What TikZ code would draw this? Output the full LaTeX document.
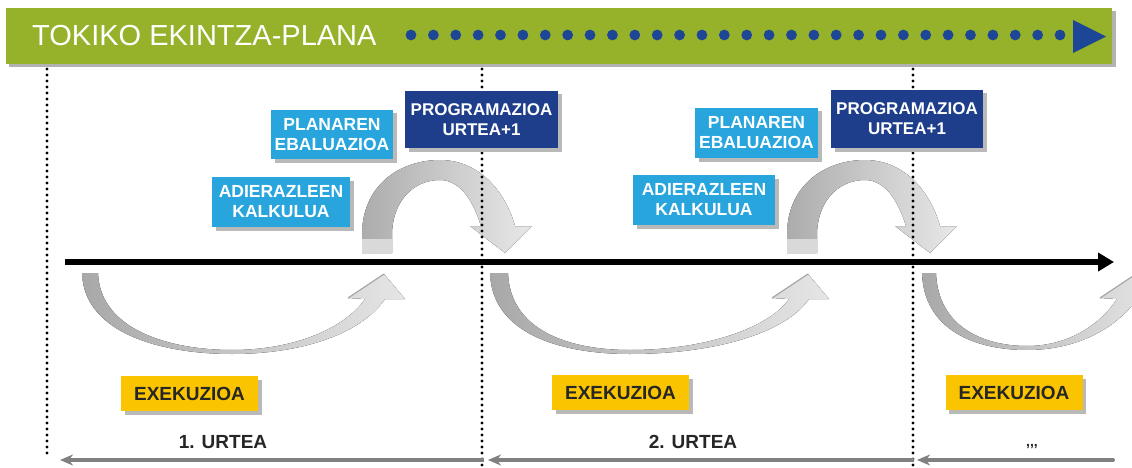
\documentclass[tikz,border=0pt]{standalone}
\usepackage{fontspec}
\setmainfont{Liberation Sans}
\usetikzlibrary{arrows.meta,shadows}
\definecolor{bannergreen}{RGB}{150,178,42}
\definecolor{navybox}{RGB}{30,62,140}
\definecolor{lightbox}{RGB}{41,165,222}
\definecolor{yellowbox}{RGB}{250,196,0}
\definecolor{dotblue}{RGB}{30,70,150}
\tikzset{
  boxbase/.style={inner sep=0pt, align=center, general shadow={fill=gray!55, shadow xshift=3.5pt, shadow yshift=-3.5pt}},
  navystyle/.style={boxbase, fill=navybox, text=white, font=\fontsize{17}{20}\selectfont\bfseries},
  lightstyle/.style={boxbase, fill=lightbox, text=white, font=\fontsize{17.5}{20}\selectfont\bfseries},
  exestyle/.style={boxbase, fill=yellowbox, text=black!85, font=\fontsize{19}{22}\selectfont\bfseries, minimum width=137pt, minimum height=35pt},
  yearlabel/.style={anchor=base, text=black!85, font=\fontsize{19}{22}\selectfont\bfseries},
  timeline/.style={line width=6pt, -{Triangle[length=16pt,width=18pt]}},
  yearline/.style={line width=4pt, draw=black!50, {Stealth[length=13pt,width=11pt,inset=4pt]}-},
  upperarc/.style={left color=gray!65, right color=gray!18},
  lowerarc/.style={left color=gray!68, right color=gray!20},
}
\begin{document}
\begin{tikzpicture}[x=1pt,y=-1pt]
\useasboundingbox (0,0) rectangle (1132,468);
\fill[white] (0,0) rectangle (1132,468);
% banner
\fill[gray!60] (9,11) rectangle (1116,67);
\fill[bannergreen] (6,8) rectangle (1112,64);
\node[anchor=base west, inner sep=0pt, text=white, font=\fontsize{29}{32}\selectfont] (title) at (32,46) {TOKIKO EKINTZA-PLANA};
\foreach \i in {0,...,29} \fill[dotblue] ({411+\i*22.38},35) circle (5.4pt);
\fill[dotblue] (1073,20) -- (1106,36.5) -- (1073,53) -- cycle;
% upper arcs
\foreach \s in {0,425}{
\begin{scope}[xshift=\s pt]
\fill[upperarc] (362,253) -- (362,235) .. controls (362,185) and (400,160) .. (440,160) .. controls (478,160) and (505,190) .. (515,226) -- (532,226) -- (505,253) -- (470,226) -- (481,226) .. controls (472,197) and (458,180) .. (440,180) .. controls (412,180) and (392,203) .. (392,235) -- (392,253) -- cycle;
\fill[gray!30] (362,239) rectangle (392,253);
\draw[gray!45, line width=0.8pt] (470,226) -- (481,226) (515,226) -- (532,226);
\end{scope}}
% lower arcs
\begin{scope}
\clip (0,0) rectangle (1132,468);
\fill[lowerarc] (82,273) .. controls (84,335) and (165,354) .. (232,354) .. controls (300,354) and (360,335) .. (385,299) -- (405,299) -- (384,274) -- (348,298) -- (365,299) .. controls (345,328) and (295,350) .. (232,350) .. controls (170,350) and (100,330) .. (98,273) -- cycle;
\draw[gray!70, line width=1.2pt] (348,298) -- (384,274);
\fill[lowerarc] (490,273) .. controls (492,335) and (563,354) .. (630,354) .. controls (710,354) and (784,335) .. (809,299) -- (829,299) -- (808,274) -- (772,298) -- (789,299) .. controls (769,328) and (705,350) .. (630,350) .. controls (568,350) and (510,330) .. (508,273) -- cycle;
\draw[gray!70, line width=1.2pt] (772,298) -- (808,274);
\fill[lowerarc] (922,273) .. controls (924,330) and (975,350) .. (1027,350) .. controls (1075,350) and (1115,330) .. (1137,299) -- (1157,299) -- (1136,274) -- (1100,298) -- (1117,299) .. controls (1100,325) and (1068,346) .. (1027,346) .. controls (985,346) and (938,328) .. (936,273) -- cycle;
\draw[gray!70, line width=1.2pt] (1100,298) -- (1136,274);
\end{scope}
% dividers (dotted)
\foreach \y in {69,75,...,457} \fill[black] (47,\y) circle (1.6pt);
\foreach \y in {69,75,...,467} \fill[black] (482,\y) circle (1.6pt);
\foreach \y in {69,75,...,467} \fill[black] (913,\y) circle (1.6pt);
% main timeline
\coordinate (tlstart) at (65,262);
\coordinate (tlend) at (1114,262);
\draw[timeline] (tlstart) -- (tlend);
% boxes
\node[navystyle, minimum width=153pt, minimum height=57pt] (prog1) at (481.5,119.5) {PROGRAMAZIOA\\URTEA+1};
\node[navystyle, minimum width=152pt, minimum height=58pt] (prog2) at (907,119) {PROGRAMAZIOA\\URTEA+1};
\node[lightstyle, minimum width=122pt, minimum height=49pt] (plan1) at (332,134.5) {PLANAREN\\EBALUAZIOA};
\node[lightstyle, minimum width=123pt, minimum height=50pt] (plan2) at (756.5,133) {PLANAREN\\EBALUAZIOA};
\node[lightstyle, minimum width=138pt, minimum height=50pt] (adier1) at (281,202) {ADIERAZLEEN\\KALKULUA};
\node[lightstyle, minimum width=142pt, minimum height=50pt] (adier2) at (704,200) {ADIERAZLEEN\\KALKULUA};
\node[exestyle] (exe1) at (189.5,393.5) {EXEKUZIOA};
\node[exestyle] (exe2) at (620.5,392.5) {EXEKUZIOA};
\node[exestyle] (exe3) at (1014,392.5) {EXEKUZIOA};
% year labels
\node[yearlabel] (year1) at (223,448) {1. URTEA};
\node[yearlabel] (year2) at (693,448) {2. URTEA};
\node[yearlabel, font=\fontsize{14}{16}\selectfont\bfseries] (year3) at (1032,446) {{,}{,}{,}};
% year arrows
\coordinate (ya1) at (60,460);
\coordinate (yb1) at (484,460);
\coordinate (ya2) at (488,460);
\coordinate (yb2) at (914,460);
\coordinate (ya3) at (917,460);
\coordinate (yb3) at (1113,460);
\draw[yearline] (ya1) -- (yb1);
\draw[yearline] (ya2) -- (yb2);
\draw[yearline, line cap=round] (ya3) -- (yb3);
\end{tikzpicture}
\end{document}
